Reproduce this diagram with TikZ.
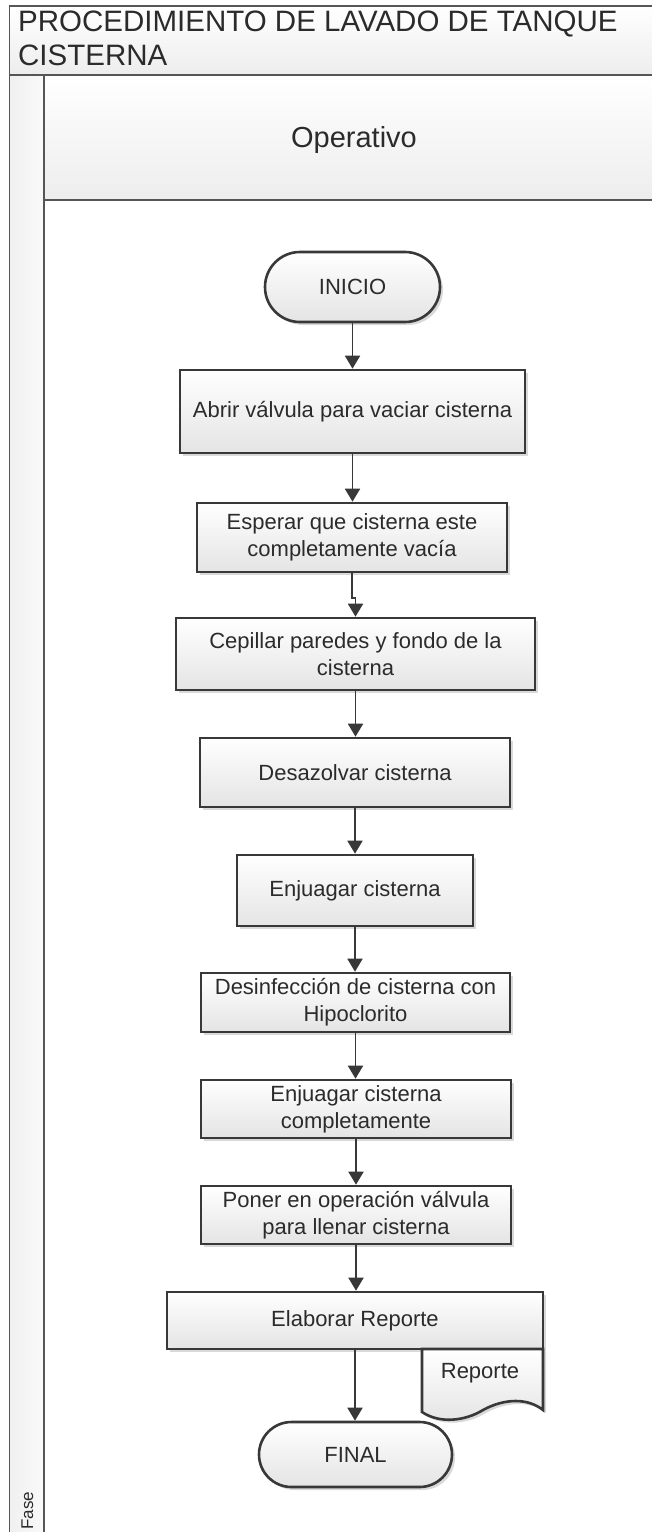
\documentclass[tikz,border=0pt]{standalone}
\usepackage{fontspec}
\setmainfont{Liberation Sans}
\usetikzlibrary{arrows.meta,shadows,calc}
\definecolor{ln}{HTML}{383838}
\definecolor{tx}{HTML}{2B2B2B}
\definecolor{fillb}{HTML}{E4E4E4}
\begin{document}
\begin{tikzpicture}[x=1pt,y=-1pt,
  procbox/.style={draw=ln, line width=2.6pt, top color=white, bottom color=fillb,
    text=tx, align=center, inner sep=0pt, font=\fontsize{22}{27}\selectfont,
    drop shadow={shadow xshift=3pt, shadow yshift=-3pt, opacity=0.15, fill=black}},
  termbox/.style={procbox},
  arr/.style={draw=ln, line width=1.8pt, -{Triangle[width=15pt,length=13pt]}},
  laneline/.style={draw=ln!85, line width=1.6pt},
  lanetext/.style={text=tx, inner sep=0pt},
]
\useasboundingbox (0,0) rectangle (652,1532);
\begin{scope}
\clip (0,0) rectangle (652,1532);
\path[laneline, top color=white, bottom color=gray!14] (9.5,6) rectangle (662,75);
\path[laneline, left color=gray!12, right color=gray!4] (9.5,75) rectangle (44,1545);
\path[laneline, top color=white, bottom color=gray!14] (44,75) rectangle (662,200);
\path[laneline, fill=white] (44,200) rectangle (662,1545);
\end{scope}

\node[lanetext, anchor=base west, font=\fontsize{29.5}{34}\selectfont] (title1) at (18,31) {PROCEDIMIENTO DE LAVADO DE TANQUE};
\node[lanetext, anchor=base west, font=\fontsize{29.5}{34}\selectfont] (title2) at (18,65) {CISTERNA};
\node[lanetext, anchor=base, font=\fontsize{29}{34}\selectfont] (lane) at (354,147) {Operativo};
\node[lanetext, rotate=90, anchor=base west, font=\fontsize{17}{20}\selectfont] (fase) at (33,1530) {Fase};

\node[termbox, minimum width=175pt, minimum height=70pt, rounded corners=35pt] (inicio) at (352.5,287) {INICIO};
\node[procbox, minimum width=345pt, minimum height=83pt] (abrir) at (352.5,411.5) {Abrir válvula para vaciar cisterna};
\node[procbox, minimum width=310pt, minimum height=69pt] (esp) at (352,537.5) {Esperar que cisterna este\\completamente vacía};
\node[procbox, minimum width=359pt, minimum height=72pt] (cep) at (355.5,654) {Cepillar paredes y fondo de la\\cisterna};
\node[procbox, minimum width=310pt, minimum height=69pt] (desaz) at (355,772.5) {Desazolvar cisterna};
\node[procbox, minimum width=236pt, minimum height=71pt] (enj) at (355,890.5) {Enjuagar cisterna};
\node[procbox, minimum width=309pt, minimum height=59pt] (desinf) at (355.5,1002.5) {Desinfección de cisterna con\\Hipoclorito};
\node[procbox, minimum width=310pt, minimum height=58pt] (enjc) at (356,1109) {Enjuagar cisterna\\completamente};
\node[procbox, minimum width=310pt, minimum height=58pt] (poner) at (356,1215) {Poner en operación válvula\\para llenar cisterna};
\node[procbox, minimum width=376pt, minimum height=57pt] (elab) at (355,1320.5) {Elaborar Reporte};
\path[draw=ln, line width=2.6pt, top color=white, bottom color=fillb,
  drop shadow={shadow xshift=3pt, shadow yshift=-3pt, opacity=0.15, fill=black}]
  (422,1349) -- (543,1349) -- (543,1410)
  .. controls (528,1398) and (505,1398) .. (483,1410)
  .. controls (465,1421) and (440,1424) .. (422,1412) -- cycle;
\node[lanetext, font=\fontsize{22}{27}\selectfont] (rep) at (480,1373) {Reporte};
\node[termbox, minimum width=193pt, minimum height=65pt, rounded corners=32.5pt] (final) at (355.5,1454.5) {FINAL};

\draw[arr] (inicio.south) -- (inicio.south |- abrir.north);
\draw[arr] (abrir.south) -- (abrir.south |- esp.north);
\draw[arr] (esp.south) -- ++(0,25) -| (cep.north);
\draw[arr] (cep.south) -- (cep.south |- desaz.north);
\draw[arr] (desaz.south) -- (desaz.south |- enj.north);
\draw[arr] (enj.south) -- (enj.south |- desinf.north);
\draw[arr] (desinf.south) -- (desinf.south |- enjc.north);
\draw[arr] (enjc.south) -- (enjc.south |- poner.north);
\draw[arr] (poner.south) -- (poner.south |- elab.north);
\draw[arr] (elab.south) -- (elab.south |- final.north);
\end{tikzpicture}
\end{document}
